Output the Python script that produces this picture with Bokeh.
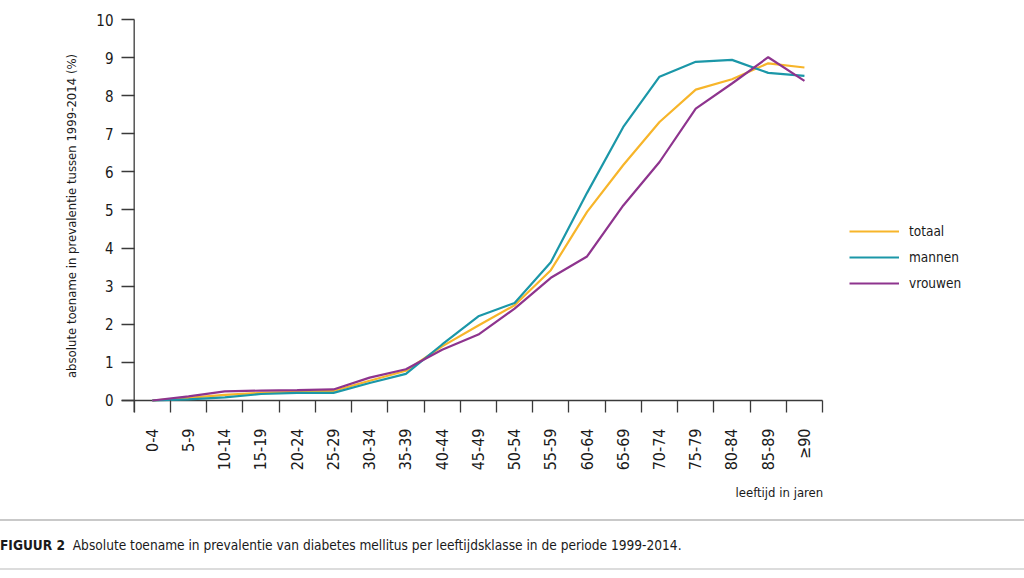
import math
from bokeh.plotting import figure
from bokeh.models import (Range1d, FixedTicker, Span, Title, Legend, LegendItem, Div)
from bokeh.layouts import column
from bokeh.embed import file_html
from bokeh.resources import INLINE

# ---- data ----
age_groups = ["0-4", "5-9", "10-14", "15-19", "20-24", "25-29", "30-34", "35-39",
              "40-44", "45-49", "50-54", "55-59", "60-64", "65-69", "70-74",
              "75-79", "80-84", "85-89", "\u226590"]
totaal = [0.0, 0.07, 0.15, 0.20, 0.23, 0.25, 0.52, 0.78, 1.42, 1.97, 2.50,
          3.42, 4.95, 6.18, 7.31, 8.16, 8.43, 8.85, 8.74]
mannen = [0.0, 0.03, 0.08, 0.17, 0.20, 0.20, 0.46, 0.70, 1.47, 2.21, 2.56,
          3.63, 5.45, 7.18, 8.50, 8.89, 8.94, 8.60, 8.52]
vrouwen = [0.0, 0.11, 0.24, 0.26, 0.27, 0.29, 0.60, 0.82, 1.33, 1.73, 2.41,
           3.22, 3.78, 5.12, 6.26, 7.66, 8.32, 9.01, 8.39]
y_ticks = [0, 1, 2, 3, 4, 5, 6, 7, 8, 9, 10]

series_names = ["totaal", "mannen", "vrouwen"]
series_colors = ["#F7B52A", "#1B97A8", "#8E348E"]

FONT = "DejaVu Sans Condensed"
TXT = "#1a1a1a"
AX = "#3a3a3a"

xs = list(range(len(age_groups)))
n = len(age_groups)

W, H = 1024, 512
LEFT, TOP, BOTTOM = 121, 19, 100
x0 = -0.85
px_per_x = 36.23
x_end = x0 + (W - LEFT) / px_per_x

p = figure(width=W, height=H, output_backend="svg", toolbar_location=None,
           x_range=Range1d(x0, x_end), y_range=Range1d(-0.315, 10),
           min_border_left=LEFT, min_border_right=0, min_border_top=TOP,
           min_border_bottom=BOTTOM)
p.outline_line_color = None
p.grid.visible = False

# y axis
ya = p.yaxis[0]
ya.ticker = FixedTicker(ticks=y_ticks, minor_ticks=[])
ya.axis_line_color = None
ya.major_tick_in = 13
ya.major_tick_out = 0
ya.major_tick_line_color = AX
ya.major_tick_line_width = 1.3
ya.minor_tick_line_color = None
ya.major_label_standoff = 8
ya.major_label_text_font = FONT
ya.major_label_text_font_size = "15px"
ya.major_label_text_color = TXT
ya.axis_label = "absolute toename in prevalentie tussen 1999-2014 (%)"
ya.axis_label_text_font = FONT
ya.axis_label_text_font_size = "13px"
ya.axis_label_text_font_style = "normal"
ya.axis_label_text_color = TXT
ya.axis_label_standoff = 14

# x axis
xa = p.xaxis[0]
xa.ticker = FixedTicker(ticks=xs, minor_ticks=[i - 0.5 for i in range(n + 1)])
xa.major_label_overrides = {i: lab for i, lab in zip(xs, age_groups)}
xa.axis_line_color = None
xa.major_tick_in = 0
xa.major_tick_out = 0
xa.minor_tick_in = 12
xa.minor_tick_out = 0
xa.minor_tick_line_color = AX
xa.minor_tick_line_width = 1.3
xa.major_label_orientation = math.pi / 2
xa.major_label_standoff = 16
xa.major_label_text_font = FONT
xa.major_label_text_font_size = "16px"
xa.major_label_text_color = TXT

# axis lines
p.add_layout(Span(location=-0.5, dimension="height", line_color=AX, line_width=1.3))
p.segment(x0=[x0], y0=[0], x1=[n - 0.5], y1=[0], line_color=AX, line_width=1.3)

# series
renderers = []
for name, ys, col in zip(series_names, [totaal, mannen, vrouwen], series_colors):
    r = p.line(xs, ys, line_color=col, line_width=2.2)
    renderers.append(r)

legend = Legend(items=[LegendItem(label=nm, renderers=[r]) for nm, r in zip(series_names, renderers)],
                location=(728, 119), padding=0, margin=0, spacing=6,
                glyph_width=50, glyph_height=20, label_height=20, label_standoff=10,
                border_line_color=None, background_fill_alpha=0,
                label_text_font=FONT, label_text_font_size="13.5px", label_text_color=TXT)
p.add_layout(legend)

xt = Title(text="leeftijd in jaren", align="left", offset=735 - LEFT,
           text_font=FONT, text_font_size="13px", text_font_style="normal",
           text_color=TXT, standoff=18)
p.add_layout(xt, "below")

cap = Div(text='<span style="font-weight:bold">FIGUUR 2</span>&nbsp; Absolute toename in prevalentie van diabetes mellitus per leeftijdsklasse in de periode 1999-2014.',
          width=W, height=51, margin=(7, 0, 0, 0),
          styles={"font-family": "'DejaVu Sans Condensed', sans-serif",
                  "font-size": "13.6px", "color": TXT,
                  "border-top": "2px solid #c9c9c9", "border-bottom": "2px solid #dcdcdc",
                  "line-height": "20px", "padding-top": "14px", "box-sizing": "border-box"})

layout = column(p, cap, spacing=0)
open("out.html", "w").write(file_html(layout, INLINE))
